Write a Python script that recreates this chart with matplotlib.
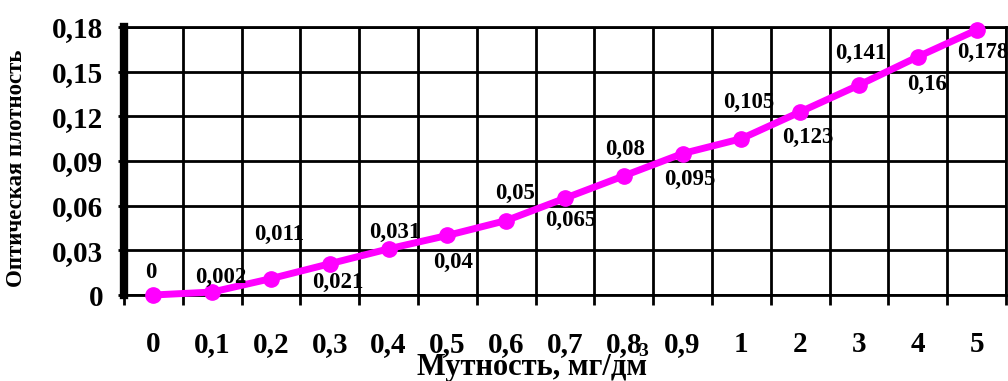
import matplotlib.pyplot as plt

# Optical density vs turbidity calibration curve

categories = ["0", "0,1", "0,2", "0,3", "0,4", "0,5", "0,6", "0,7", "0,8", "0,9",
              "1", "2", "3", "4", "5"]
density = [0, 0.002, 0.011, 0.021, 0.031, 0.04, 0.05, 0.065, 0.08, 0.095,
           0.105, 0.123, 0.141, 0.16, 0.178]
value_labels = ["0", "0,002", "0,011", "0,021", "0,031", "0,04", "0,05", "0,065",
                "0,08", "0,095", "0,105", "0,123", "0,141", "0,16", "0,178"]
y_ticks = [0, 0.03, 0.06, 0.09, 0.12, 0.15, 0.18]
y_tick_labels = ["0", "0,03", "0,06", "0,09", "0,12", "0,15", "0,18"]

# label offsets in pixels (dx, dy) relative to each point
label_offsets = [(-3, 23), (9, 15), (8, 44), (8, -19), (6, 16), (6, -27),
                 (9, 27), (6, -22), (1, 26), (7, -26), (7, 36), (8, -26),
                 (2, 32), (9, -28), (6, -22)]

plt.rcParams["font.family"] = "Liberation Serif"
plt.rcParams["font.weight"] = "bold"

fig = plt.figure(figsize=(10.08, 3.81), dpi=100)
ax = fig.add_axes([124 / 1008, 86 / 381, 882 / 1008, 268 / 381])

x = list(range(len(categories)))
ax.plot(x, density, color="#ff00ff", linewidth=5, marker="o", markersize=11,
        zorder=5, clip_on=False)

for xi, yi, lab, (dx, dy) in zip(x, density, value_labels, label_offsets):
    ax.annotate(lab, (xi, yi), xytext=(dx, dy), textcoords="offset pixels",
                ha="center", va="center", fontsize=16.5, fontweight="bold",
                zorder=6, annotation_clip=False)

ax.set_xlim(-0.5, len(categories) - 0.5)
ax.set_ylim(0, 0.18)

# grid at category boundaries, labels at centres
ax.set_xticks([i - 0.5 for i in range(len(categories) + 1)])
ax.set_xticklabels([])
ax.set_xticks(x, minor=True)
ax.set_xticklabels(categories, minor=True, fontsize=21, fontweight="bold")
ax.tick_params(axis="x", which="major", direction="out", length=7, width=2)
ax.tick_params(axis="x", which="minor", length=0, pad=26)

ax.set_yticks(y_ticks)
ax.set_yticklabels(y_tick_labels, fontsize=21, fontweight="bold")
ax.tick_params(axis="y", direction="out", length=4, width=2, pad=11)

ax.grid(True, which="major", color="black", linewidth=2)
ax.set_axisbelow(True)

for side in ["top", "right", "bottom"]:
    ax.spines[side].set_linewidth(2)
ax.spines["left"].set_linewidth(6)

fig.text(17 / 1008, 1 - 168 / 381, "Оптическая плотность", rotation=90,
         ha="center", va="center", fontsize=16.5, fontweight="bold")
fig.text(532 / 1008, 1 - 367 / 381, "Мутность, мг/дм", ha="center",
         va="center", fontsize=22, fontweight="bold")
fig.text(643 / 1008, 1 - 352 / 381, "3", ha="center", va="center",
         fontsize=14, fontweight="bold")

plt.savefig("out.png", dpi=100)
plt.close()
